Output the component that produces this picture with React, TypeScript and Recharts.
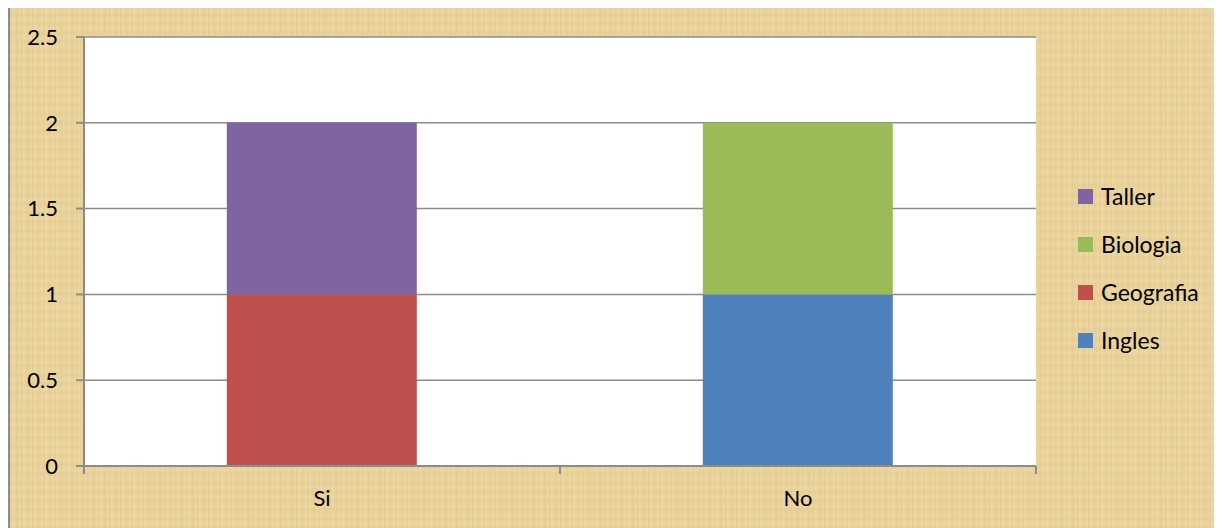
import { BarChart, Bar, XAxis, YAxis, CartesianGrid, Legend } from 'recharts';

const categories = ['Si', 'No'];
const ingles = [0, 1];
const geografia = [1, 0];
const biologia = [0, 1];
const taller = [1, 0];
const yTicks = [0, 0.5, 1, 1.5, 2, 2.5];

const SERIES = [
  { key: 'Ingles', values: ingles, color: '#4F81BD' },
  { key: 'Geografia', values: geografia, color: '#C0504D' },
  { key: 'Biologia', values: biologia, color: '#9BBB59' },
  { key: 'Taller', values: taller, color: '#8064A2' },
];

const data = categories.map((name, i) => {
  const row: Record<string, any> = { name };
  SERIES.forEach((s) => (row[s.key] = s.values[i]));
  return row;
});

const FONT = 'Lato, "Open Sans", sans-serif';
const AXIS = '#8c8c8c';
const X_TICK_SIZE = 8;
const X_TICK_MARGIN = 16;
const LEGEND_W = 150;

const CategoryTick = (props: any) => {
  const { x, y, payload, index, visibleTicksCount } = props;
  const half = payload.offset || 0;
  const axisY = y - X_TICK_SIZE - X_TICK_MARGIN;
  const last = index === (visibleTicksCount ?? categories.length) - 1;
  return (
    <g>
      <line x1={x - half} x2={x - half} y1={axisY} y2={axisY + X_TICK_SIZE} stroke={AXIS} strokeWidth={2} />
      {last && (
        <line x1={x + half} x2={x + half} y1={axisY} y2={axisY + X_TICK_SIZE} stroke={AXIS} strokeWidth={2} />
      )}
      <text x={x} y={y} dy="0.71em" textAnchor="middle" fill="#000" fontSize={22} fontFamily={FONT}>
        {payload.value}
      </text>
    </g>
  );
};

const LegendBox = () => (
  <div style={{ fontFamily: FONT, fontSize: 23, color: '#000' }}>
    {[...SERIES].reverse().map((s) => (
      <div key={s.key} style={{ display: 'flex', alignItems: 'center', height: 48 }}>
        <span style={{ width: 15, height: 15, background: s.color, marginRight: 8, display: 'inline-block' }} />
        {s.key}
      </div>
    ))}
  </div>
);

const paper =
  'repeating-linear-gradient(90deg, rgba(190,150,70,0.10) 0px, rgba(255,240,200,0.12) 3px, rgba(200,160,80,0.08) 7px, rgba(255,245,210,0.10) 11px),' +
  'repeating-linear-gradient(0deg, rgba(190,150,70,0.08) 0px, rgba(255,240,200,0.10) 4px, rgba(200,160,80,0.06) 9px),' +
  '#E9D39C';

export default function App() {
  return (
    <div
      style={{
        marginTop: -2,
        width: 1212,
        height: 520,
        borderLeft: `2px solid ${AXIS}`,
        borderTop: `2px solid ${AXIS}`,
        background: paper,
      }}
    >
      <BarChart
        width={1212}
        height={520}
        data={data}
        barCategoryGap="30%"
        margin={{ top: 29, right: 186 - LEGEND_W, bottom: 0, left: 0 }}
      >
        <CartesianGrid vertical={false} stroke={AXIS} strokeWidth={1.5} fill="#ffffff" />
        <XAxis
          dataKey="name"
          height={62}
          axisLine={{ stroke: AXIS, strokeWidth: 2 }}
          tickLine={false}
          tickSize={X_TICK_SIZE}
          tickMargin={X_TICK_MARGIN}
          tick={<CategoryTick />}
        />
        <YAxis
          width={74}
          domain={[0, 2.5]}
          ticks={yTicks}
          axisLine={{ stroke: AXIS, strokeWidth: 2 }}
          tickLine={{ stroke: AXIS, strokeWidth: 2 }}
          tickSize={8}
          tickMargin={18}
          tick={{ fill: '#000', fontSize: 22, fontFamily: FONT }}
        />
        <Legend
          layout="vertical"
          align="right"
          verticalAlign="top"
          content={<LegendBox />}
          wrapperStyle={{ left: 1068, top: 164, width: LEGEND_W }}
        />
        {SERIES.map((s) => (
          <Bar key={s.key} dataKey={s.key} stackId="a" fill={s.color} isAnimationActive={false} />
        ))}
      </BarChart>
    </div>
  );
}
